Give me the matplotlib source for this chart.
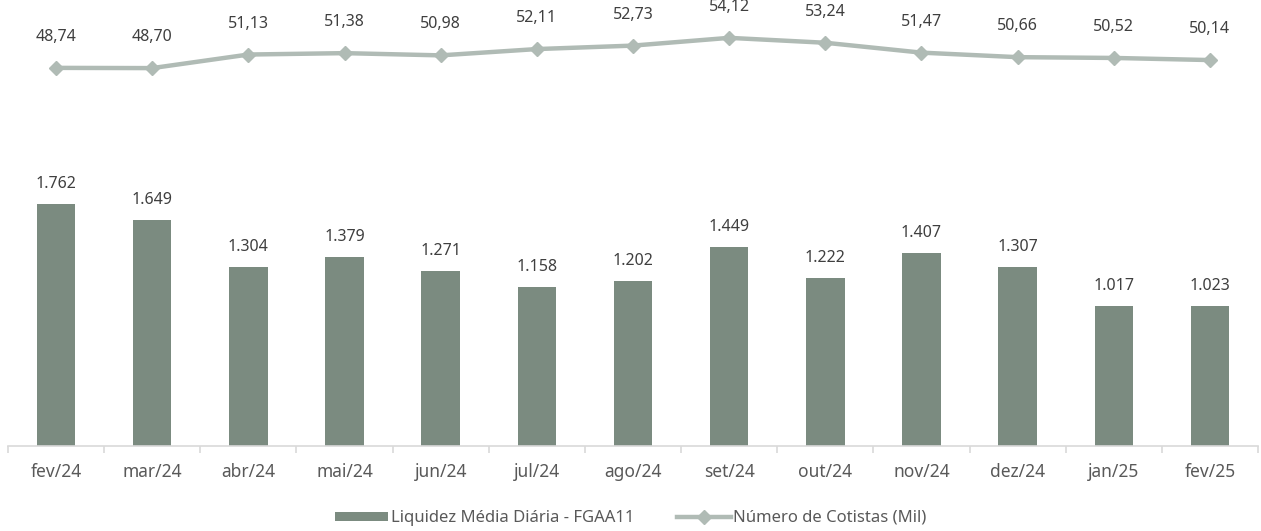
import numpy as np
import matplotlib
matplotlib.use("Agg")
from matplotlib import pyplot as plt
from matplotlib.ticker import FixedLocator

months = ["fev/24", "mar/24", "abr/24", "mai/24", "jun/24", "jul/24", "ago/24",
          "set/24", "out/24", "nov/24", "dez/24", "jan/25", "fev/25"]
liquidez = [1762, 1649, 1304, 1379, 1271, 1158, 1202, 1449, 1222, 1407, 1307, 1017, 1023]
cotistas = [48.74, 48.70, 51.13, 51.38, 50.98, 52.11, 52.73, 54.12, 53.24, 51.47, 50.66, 50.52, 50.14]

bar_color = "#7b8b80"
line_color = "#b0bbb5"
text_color = "#3f3f3f"
tick_color = "#595959"

plt.rcParams["font.family"] = ["Noto Sans", "DejaVu Sans"]

fig = plt.figure(figsize=(12.61, 5.31), dpi=100)
ax = fig.add_axes([8 / 1261, 85 / 531, 1250 / 1261, 446 / 531])
x = np.arange(len(months))

ax.bar(x, liquidez, width=0.4, color=bar_color, label="Liquidez Média Diária - FGAA11")
for xi, v in zip(x, liquidez):
    ax.annotate(f"{v:,}".replace(",", "."), (xi, v), xytext=(0, 20), textcoords="offset pixels",
                ha="center", va="center", fontsize=11.5, color=text_color)

ax.set_xlim(-0.5, len(months) - 0.5)
ax.set_ylim(0, 3248)
ax.set_yticks([])
for s in ["top", "right", "left"]:
    ax.spines[s].set_visible(False)
ax.spines["bottom"].set_color("#d9d9d9")
ax.spines["bottom"].set_linewidth(1.2)
ax.set_xticks(x)
ax.set_xticklabels(months, fontsize=12.5, color=tick_color)
ax.tick_params(axis="x", which="major", length=0, pad=12)
ax.xaxis.set_minor_locator(FixedLocator(np.arange(-0.5, len(months), 1.0)))
ax.tick_params(axis="x", which="minor", length=5, color="#d9d9d9", width=1.2)

ax2 = ax.twinx()
ax2.plot(x, cotistas, color=line_color, linewidth=3.2, marker="D", markersize=7,
         label="Número de Cotistas (Mil)")
for xi, v in zip(x, cotistas):
    ax2.annotate(f"{v:.2f}".replace(".", ","), (xi, v), xytext=(0, 31), textcoords="offset pixels",
                 ha="center", va="center", fontsize=11.5, color=text_color)
ax2.set_ylim(-19, 60.9)
ax2.set_yticks([])
for s in ["top", "right", "left", "bottom"]:
    ax2.spines[s].set_visible(False)

h1, l1 = ax.get_legend_handles_labels()
h2, l2 = ax2.get_legend_handles_labels()
fig.legend(h1 + h2, l1 + l2, loc="center", bbox_to_anchor=(0.5, 13 / 531), ncol=2,
           frameon=False, fontsize=12, handlelength=3.2, handleheight=0.45,
           handletextpad=0.15, columnspacing=2.6, labelcolor=tick_color)

fig.savefig("out.png", dpi=100)
